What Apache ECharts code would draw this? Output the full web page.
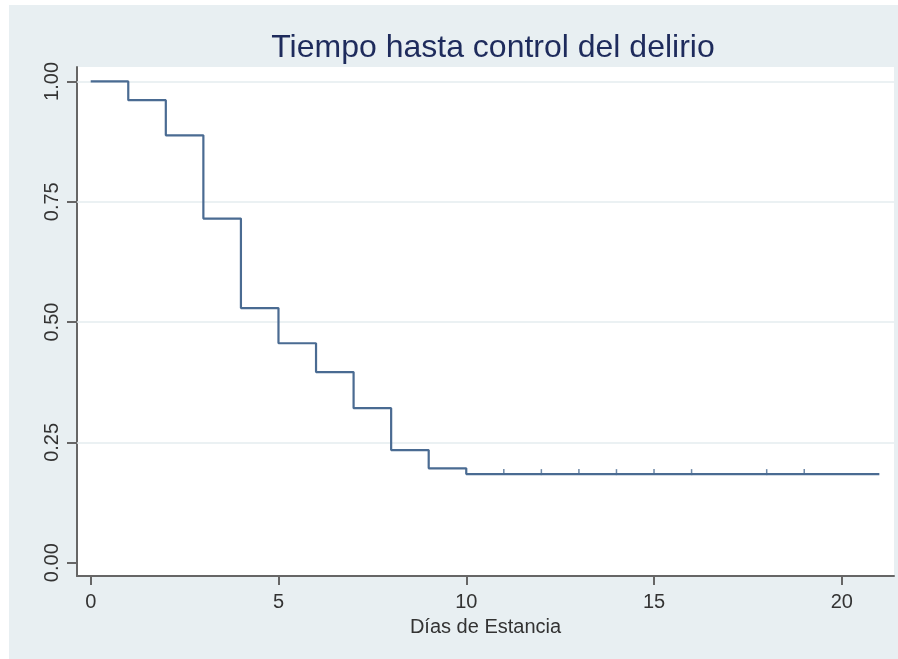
<!DOCTYPE html>
<html>
<head>
<meta charset="utf-8">
<script src="https://cdn.jsdelivr.net/npm/echarts@6/dist/echarts.min.js"></script>
<style>
html,body{margin:0;padding:0;background:#ffffff;}
#chart{width:898px;height:659px;}
</style>
</head>
<body>
<div id="chart"></div>
<script>
// Data
const days = [0, 1, 2, 3, 4, 5, 6, 7, 8, 9, 10, 21];
const survival = [1.0, 0.961, 0.888, 0.715, 0.529, 0.456, 0.396, 0.321, 0.234, 0.196, 0.184, 0.184];
const censorDays = [11, 12, 13, 14, 15, 16, 18, 19];
const censorLevel = 0.184;
const xTicks = [0, 5, 10, 15, 20];
const yTicks = [0, 0.25, 0.5, 0.75, 1.0];
const yGrid = [0.25, 0.5, 0.75, 1.0];

const chart = echarts.init(document.getElementById('chart'), null, {renderer: 'canvas'});
const font = '"Liberation Sans", Arial, Helvetica, sans-serif';

const option = {
  backgroundColor: '#ffffff',
  animation: false,
  graphic: [{
    type: 'rect', z: -10, silent: true,
    shape: {x: 9, y: 5, width: 889, height: 654},
    style: {fill: '#e8eff2'}
  }],
  title: {
    text: 'Tiempo hasta control del delirio',
    left: 488, top: 27, textAlign: 'center',
    textStyle: {fontFamily: font, fontSize: 32, fontWeight: 'normal', color: '#1e2b5c'}
  },
  grid: {
    left: 77, top: 67, right: 4, bottom: 83,
    show: true, backgroundColor: '#ffffff', borderWidth: 0
  },
  xAxis: {
    type: 'value', min: -0.365, max: 21.39,
    name: 'Días de Estancia', nameLocation: 'middle', nameGap: 41,
    nameTextStyle: {fontFamily: font, fontSize: 20, color: '#333333'},
    axisLine: {show: true, onZero: false, lineStyle: {color: '#666666', width: 2}},
    axisTick: {show: true, length: 9, customValues: xTicks, lineStyle: {color: '#666666', width: 2}},
    axisLabel: {customValues: xTicks, margin: 16, fontFamily: font, fontSize: 20, color: '#333333'},
    splitLine: {show: false}
  },
  yAxis: {
    type: 'value', min: -0.0277, max: 1.030,
    axisLine: {show: true, onZero: false, lineStyle: {color: '#666666', width: 2}},
    axisTick: {show: true, length: 10, customValues: yTicks, lineStyle: {color: '#666666', width: 2}},
    axisLabel: {
      customValues: yTicks, rotate: 90, margin: 15,
      fontFamily: font, fontSize: 20, color: '#333333',
      formatter: v => v.toFixed(2)
    },
    splitLine: {show: false}
  },
  series: [
    {
      type: 'line', step: 'end', showSymbol: false,
      data: days.map((d, i) => [d, survival[i]]),
      lineStyle: {color: '#4a6b92', width: 2.2},
      markLine: {
        silent: true, symbol: 'none', z: 1,
        label: {show: false},
        lineStyle: {color: '#e4ecef', width: 1.5, type: 'solid'},
        data: yGrid.map(v => ({yAxis: v}))
      },
      z: 3
    },
    {
      type: 'scatter',
      data: censorDays.map(d => [d, censorLevel]),
      symbol: 'rect', symbolSize: [1.5, 6], symbolOffset: [0, -2],
      itemStyle: {color: '#4a6b92'},
      z: 4
    }
  ]
};
chart.setOption(option);
</script>
</body>
</html>
